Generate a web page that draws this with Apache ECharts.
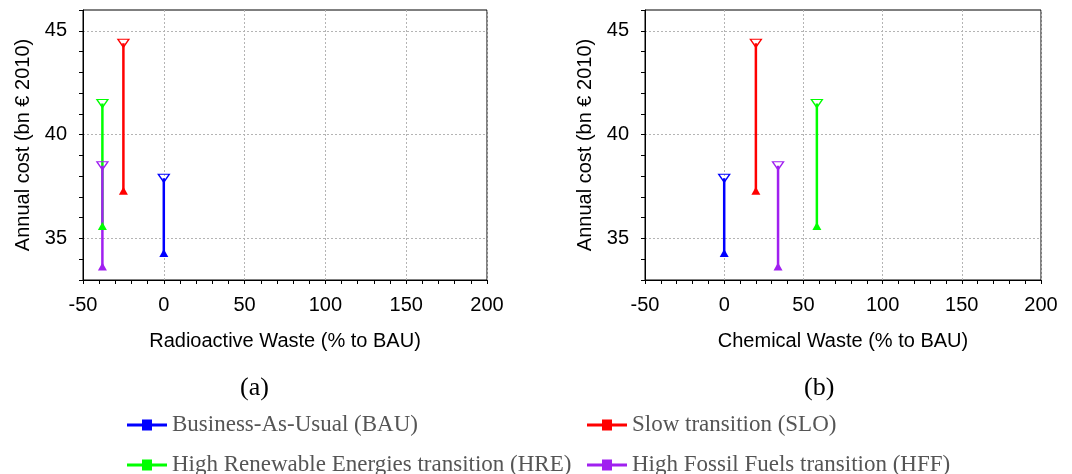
<!DOCTYPE html>
<html><head><meta charset="utf-8">
<script src="https://cdn.jsdelivr.net/npm/echarts@6/dist/echarts.min.js"></script>
<style>html,body{margin:0;padding:0;background:#fff}#c{width:1072px;height:474px}</style>
</head><body><div id="c"></div>
<script>
// ---- data ----
const scenarios = ['Business-As-Usual (BAU)', 'Slow transition (SLO)', 'High Renewable Energies transition (HRE)', 'High Fossil Fuels transition (HFF)'];
const scenarioColors = ['#0000ff', '#ff0000', '#00ff00', '#a020f0'];
const costLow = [34.3, 37.3, 35.6, 33.65];
const costHigh = [37.9, 44.4, 41.5, 38.5];
const radioactiveWaste = [0, -25, -38, -38];
const chemicalWaste = [0, 20, 58.5, 34];
const xTicks = [-50, 0, 50, 100, 150, 200];
const yTicks = [35, 40, 45];
const panelLabels = ['(a)', '(b)'];
const xNames = ['Radioactive Waste (% to BAU)', 'Chemical Waste (% to BAU)'];
const yName = 'Annual cost (bn € 2010)';

// ---- build ----
const SANS = 'Liberation Sans';
const SERIF = 'Liberation Serif';
const GRID_GRAY = '#b4b4b4';
const yMin = 33, yMax = 46;
const ySplitColors = [];
for (let v = yMin; v <= yMax; v++) ySplitColors.push(yTicks.includes(v) ? GRID_GRAY : 'rgba(0,0,0,0)');

const xData = [radioactiveWaste, chemicalWaste];
const grids = [
  {left: 83, top: 10, width: 404, height: 270, show: true, borderColor: '#000', borderWidth: 1, backgroundColor: 'transparent'},
  {left: 645, top: 10, width: 396, height: 270, show: true, borderColor: '#000', borderWidth: 1, backgroundColor: 'transparent'}
];
const xAxes = grids.map((g, gi) => ({
  type: 'value', gridIndex: gi, min: xTicks[0], max: xTicks[xTicks.length - 1], interval: xTicks[1] - xTicks[0],
  name: xNames[gi], nameLocation: 'middle', nameGap: 51,
  nameTextStyle: {fontFamily: SANS, fontSize: 20, color: '#000'},
  axisLine: {show: true, onZero: false, lineStyle: {color: '#000', width: 1}},
  axisTick: {show: true, inside: false, length: 4, lineStyle: {color: '#000'}},
  minorTick: {show: true, splitNumber: 5, length: 4, lineStyle: {color: '#000'}},
  axisLabel: {fontFamily: SANS, fontSize: 20, color: '#000', margin: 15},
  splitLine: {show: true, lineStyle: {color: GRID_GRAY, type: [2, 2], width: 1}}
}));
const yAxes = grids.map((g, gi) => ({
  type: 'value', gridIndex: gi, min: yMin, max: yMax, interval: 1,
  name: yName, nameLocation: 'middle', nameGap: 50,
  nameTextStyle: {fontFamily: SANS, fontSize: 20, color: '#000'},
  axisLine: {show: true, onZero: false, lineStyle: {color: '#000', width: 1}},
  axisTick: {show: true, inside: false, length: 4, lineStyle: {color: '#000'}},
  axisLabel: {fontFamily: SANS, fontSize: 20, color: '#000', margin: 16,
    formatter: v => (yTicks.includes(v) ? String(v) : '')},
  splitLine: {show: true, lineStyle: {color: ySplitColors, type: [2, 2], width: 1}}
}));

const series = [];
grids.forEach((g, gi) => {
  scenarios.forEach((name, i) => {
    const x = xData[gi][i];
    const c = scenarioColors[i];
    series.push({
      type: 'line', name: name, xAxisIndex: gi, yAxisIndex: gi,
      data: [[x, costLow[i]], [x, costHigh[i]]],
      showSymbol: false, symbol: 'none', lineStyle: {color: c, width: 2.5}, itemStyle: {color: c},
      z: 2, animation: false, silent: true
    });
  });
  scenarios.forEach((name, i) => {
    const x = xData[gi][i];
    const c = scenarioColors[i];
    series.push({
      type: 'scatter', name: name, xAxisIndex: gi, yAxisIndex: gi,
      data: [[x, costLow[i]]], symbol: 'triangle', symbolSize: [9, 8],
      itemStyle: {color: c, opacity: 1}, z: 3, animation: false, silent: true
    });
    series.push({
      type: 'scatter', name: name, xAxisIndex: gi, yAxisIndex: gi,
      data: [[x, costHigh[i]]], symbol: 'triangle', symbolRotate: 180, symbolSize: [11, 8],
      itemStyle: {color: 'rgba(255,255,255,0)', borderColor: c, borderWidth: 1.3, opacity: 1}, z: 3, animation: false, silent: true
    });
  });
});

const legendIcon = 'path://M0,4H40V7H0Z M15,0H25V11H15Z';
const legendPos = [[122, 408], [582, 408], [122, 448], [582, 448]];
const legends = scenarios.map((name, i) => ({
  left: legendPos[i][0], top: legendPos[i][1], orient: 'horizontal',
  itemWidth: 40, itemHeight: 11, selectedMode: false, icon: legendIcon,
  itemStyle: {color: scenarioColors[i]},
  textStyle: {fontFamily: SERIF, fontSize: 23, color: '#555', lineHeight: 24},
  data: [name]
}));

const option = {
  backgroundColor: '#fff',
  animation: false,
  grid: grids,
  xAxis: xAxes,
  yAxis: yAxes,
  legend: legends,
  graphic: [
    {type: 'text', left: 257 - 17, top: 375, style: {text: panelLabels[0], font: '26px "Liberation Serif"', fill: '#000'}},
    {type: 'text', left: 821 - 17, top: 375, style: {text: panelLabels[1], font: '26px "Liberation Serif"', fill: '#000'}}
  ],
  series: series
};
const chart = echarts.init(document.getElementById('c'), null, {renderer: 'canvas'});
chart.setOption(option);
</script></body></html>
